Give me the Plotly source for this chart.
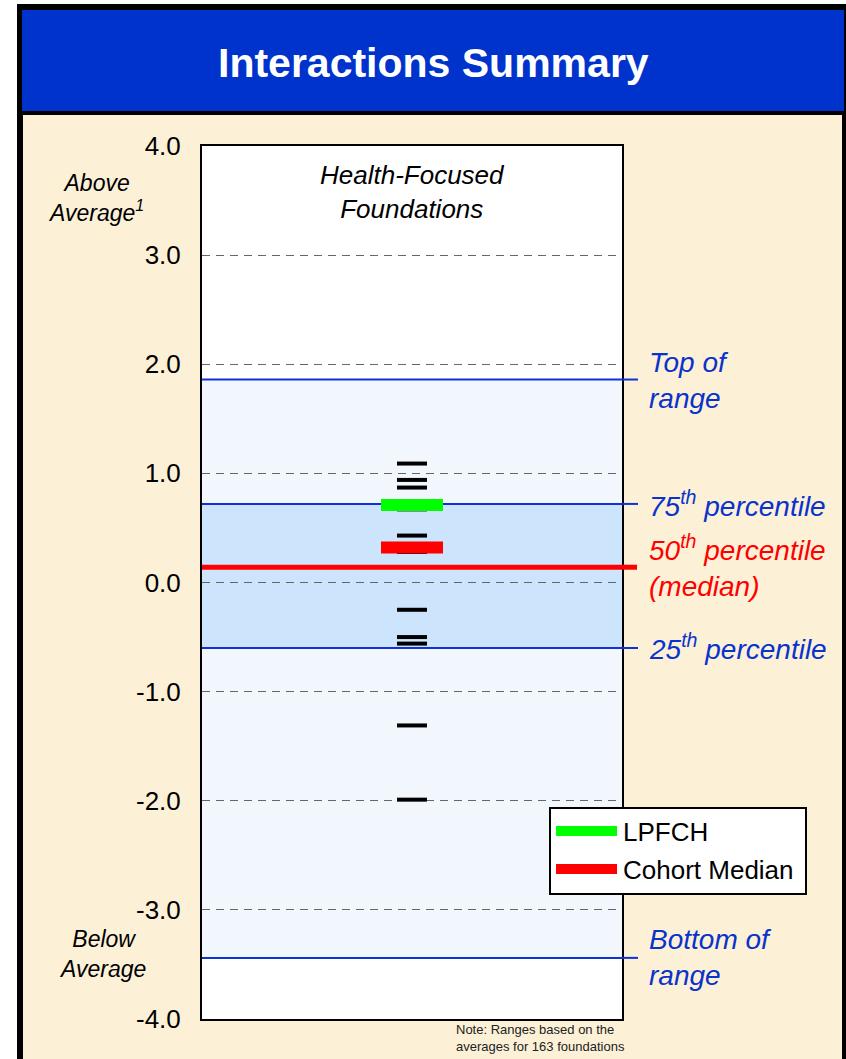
import plotly.graph_objects as go

# ---------------- data ----------------
title_text = "Interactions Summary"
panel_title = "Health-Focused<br>Foundations"
foundation_scores = [1.09, 0.94, 0.87, 0.67, 0.43, 0.28, -0.25, -0.50, -0.56, -1.31, -1.99]
lpfch_score = 0.71
cohort_median_score = 0.32
range_top = 1.86
pct75 = 0.72
pct50 = 0.14
pct25 = -0.60
range_bottom = -3.44
tick_values = [4, 3, 2, 1, 0, -1, -2, -3, -4]
tick_labels = ["4.0", "3.0", "2.0", "1.0", "0.0", "-1.0", "-2.0", "-3.0", "-4.0"]

# ---------------- layout helpers ----------------
W, H = 846, 1059
def px(x):
    return x / W
def py(y):
    return 1 - y / H

FONT = "Liberation Sans, Arial, sans-serif"
BLUE_HDR = "#0033CC"
BLUE_TXT = "#0A33CC"
BLUE_LINE = "#1030D8"
BEIGE = "#FCF1D7"
LINE_EW = 1.4  # plotly draws line-ew markers 1.4 x size long

plot_l, plot_r, plot_t, plot_b = 202, 622, 146, 1019

fig = go.Figure()

# foundation dashes
fig.add_trace(go.Scatter(
    x=[0.5] * len(foundation_scores), y=foundation_scores, mode="markers",
    marker=dict(symbol="line-ew", size=30 / LINE_EW, line=dict(width=4, color="black")),
    showlegend=False, hoverinfo="y"))
# LPFCH
fig.add_trace(go.Scatter(
    x=[0.5], y=[lpfch_score], mode="markers", name="LPFCH",
    marker=dict(symbol="line-ew", size=62 / LINE_EW, line=dict(width=12, color="#00FF00")),
    showlegend=False))
# Cohort median
fig.add_trace(go.Scatter(
    x=[0.5], y=[cohort_median_score], mode="markers", name="Cohort Median",
    marker=dict(symbol="line-ew", size=62 / LINE_EW, line=dict(width=12, color="#FF0000")),
    showlegend=False))

shapes = []
# frame, header and beige panel
shapes.append(dict(type="rect", xref="paper", yref="paper", x0=px(17), x1=px(846), y0=py(1059), y1=py(4),
                   fillcolor="black", line=dict(width=0), layer="below"))
shapes.append(dict(type="rect", xref="paper", yref="paper", x0=px(22), x1=px(844), y0=py(111), y1=py(10),
                   fillcolor=BLUE_HDR, line=dict(width=0), layer="below"))
shapes.append(dict(type="rect", xref="paper", yref="paper", x0=px(23), x1=px(842), y0=py(1059), y1=py(115),
                   fillcolor=BEIGE, line=dict(width=0), layer="below"))
shapes.append(dict(type="rect", xref="paper", yref="paper", x0=px(plot_l), x1=px(plot_r), y0=py(plot_b), y1=py(plot_t),
                   fillcolor="white", line=dict(width=0), layer="below"))
# bands
shapes.append(dict(type="rect", xref="x", yref="y", x0=0, x1=1, y0=range_bottom, y1=range_top,
                   fillcolor="#F2F7FE", line=dict(width=0), layer="below"))
shapes.append(dict(type="rect", xref="x", yref="y", x0=0, x1=1, y0=pct25, y1=pct75,
                   fillcolor="#CCE4FC", line=dict(width=0), layer="below"))
# range lines (inside plot part + short outside tick)
for v in [range_top, pct75, pct25, range_bottom]:
    shapes.append(dict(type="line", xref="x", yref="y", x0=0, x1=1, y0=v, y1=v,
                       line=dict(color=BLUE_LINE, width=2), layer="below"))
    shapes.append(dict(type="line", xref="paper", yref="y", x0=px(plot_r), x1=px(638), y0=v, y1=v,
                       line=dict(color=BLUE_LINE, width=2), layer="above"))
shapes.append(dict(type="line", xref="x", yref="y", x0=0, x1=1, y0=pct50, y1=pct50,
                   line=dict(color="#FF0000", width=5), layer="below"))
shapes.append(dict(type="line", xref="paper", yref="y", x0=px(plot_r), x1=px(637), y0=pct50, y1=pct50,
                   line=dict(color="#FF0000", width=5), layer="above"))
# legend box
shapes.append(dict(type="rect", xref="paper", yref="paper", x0=px(550), x1=px(806), y0=py(894), y1=py(808),
                   fillcolor="white", line=dict(color="black", width=2), layer="above"))
shapes.append(dict(type="rect", xref="paper", yref="paper", x0=px(556), x1=px(617), y0=py(836), y1=py(826),
                   fillcolor="#00FF00", line=dict(width=0), layer="above"))
shapes.append(dict(type="rect", xref="paper", yref="paper", x0=px(556), x1=px(617), y0=py(874), y1=py(864),
                   fillcolor="#FF0000", line=dict(width=0), layer="above"))

ann = []
def A(text, x, y, size, color="black", xanchor="center", align="center"):
    ann.append(dict(text=text, x=px(x), y=py(y), xref="paper", yref="paper", showarrow=False,
                    xanchor=xanchor, yanchor="middle", align=align,
                    font=dict(family=FONT, size=size, color=color)))

A("<b>" + title_text + "</b>", 433, 63, 41, "white")
A("<i>" + panel_title + "</i>", 412, 192, 26)
A("<i>Above<br>Average<sup>1</sup></i>", 96, 198, 23)
A("<i>Below<br>Average</i>", 102, 954, 23)
A("<i>Top of<br>range</i>", 647, 380, 28, BLUE_TXT, "left", "left")
A("<i>75<sup>th</sup> percentile</i>", 647, 504, 28, BLUE_TXT, "left", "left")
A("<i>50<sup>th</sup> percentile<br>(median)</i>", 647, 566, 28, "#FF0000", "left", "left")
A("<i>25<sup>th</sup> percentile</i>", 647, 647, 28, BLUE_TXT, "left", "left")
A("<i>Bottom of<br>range</i>", 647, 957, 28, BLUE_TXT, "left", "left")
A("LPFCH", 621, 832, 26, "black", "left", "left")
A("Cohort Median", 621, 870, 26, "black", "left", "left")
A("Note: Ranges based on the<br>averages for 163 foundations", 454, 1038, 13, "#222222", "left", "left")

fig.update_layout(
    template="none",
    width=W, height=H, autosize=False,
    margin=dict(l=0, r=0, t=0, b=0, pad=0, autoexpand=False),
    paper_bgcolor="white", plot_bgcolor="white",
    shapes=shapes, annotations=ann, showlegend=False,
    xaxis=dict(domain=[px(plot_l), px(plot_r)], range=[0, 1], showgrid=False, zeroline=False,
               showticklabels=False, ticks="", showline=True, mirror=True, linecolor="black", linewidth=2,
               fixedrange=True, automargin=False),
    yaxis=dict(domain=[py(plot_b), py(plot_t)], range=[-4, 4], tickvals=tick_values, ticktext=tick_labels,
               tickfont=dict(family=FONT, size=26, color="black"), ticks="", ticklabelstandoff=14,
               showgrid=True, gridcolor="#666666", gridwidth=1, griddash="8px,6px", zeroline=False,
               showline=True, mirror=True, linecolor="black", linewidth=2, fixedrange=True,
               automargin=False),
)

post = """
document.documentElement.style.margin='0';
document.documentElement.style.overflow='hidden';
document.body.style.margin='0';
document.body.style.overflow='hidden';
var gd = document.getElementsByClassName('plotly-graph-div')[0];
if (gd) { gd.style.position='fixed'; gd.style.left='0px'; gd.style.top='0px'; }
"""
fig.write_html("out.html", config={"displayModeBar": False}, post_script=post)
